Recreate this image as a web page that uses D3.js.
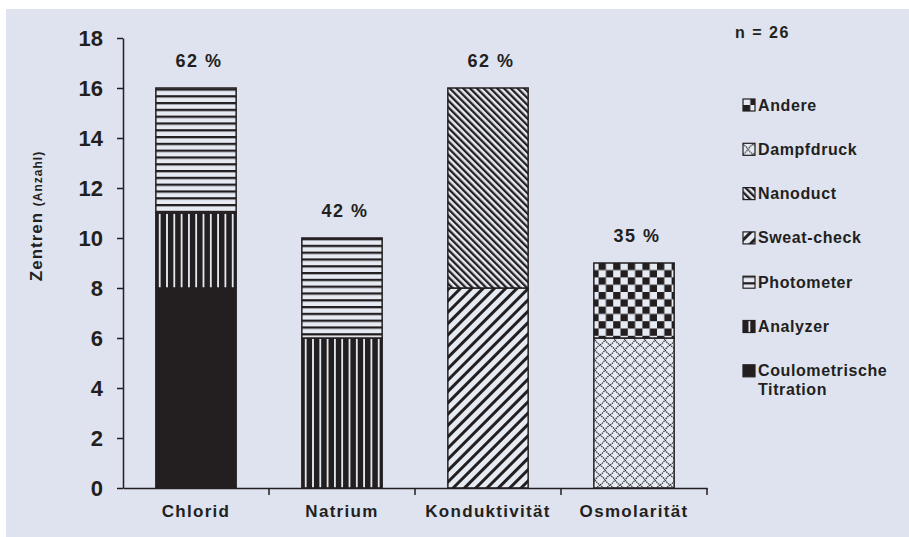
<!DOCTYPE html>
<html>
<head>
<meta charset="utf-8">
<script src="https://cdn.jsdelivr.net/npm/d3@7"></script>
<style>
  html, body { margin: 0; padding: 0; background: #ffffff; }
  svg { display: block; }
  text { font-family: "Liberation Sans", Arial, Helvetica, sans-serif; font-weight: bold; fill: #231f20; }
</style>
</head>
<body>
<svg id="chart" width="909" height="537"></svg>
<script>
// Messverfahren je Parameter (Anzahl Zentren, n = 26)
const categories = ["Chlorid", "Natrium", "Konduktivität", "Osmolarität"];
const methods = ["Coulometrische Titration", "Analyzer", "Photometer", "Sweat-check", "Nanoduct", "Dampfdruck", "Andere"];
const coulometrische = [8, 0, 0, 0];
const analyzer       = [3, 6, 0, 0];
const photometer     = [5, 4, 0, 0];
const sweatCheck     = [0, 0, 8, 0];
const nanoduct       = [0, 0, 8, 0];
const dampfdruck     = [0, 0, 0, 6];
const andere         = [0, 0, 0, 3];
const percentLabels  = ["62 %", "42 %", "62 %", "35 %"];
const yTicks = [0, 2, 4, 6, 8, 10, 12, 14, 16, 18];
const legendOrder = ["Andere", "Dampfdruck", "Nanoduct", "Sweat-check", "Photometer", "Analyzer", "Coulometrische Titration"];
const sampleLabel = "n = 26";

const ink = "#231f20";
const panel = "#dee3ef";
const light = "#e6eaf3";

const seriesValues = {
  "Coulometrische Titration": coulometrische,
  "Analyzer": analyzer,
  "Photometer": photometer,
  "Sweat-check": sweatCheck,
  "Nanoduct": nanoduct,
  "Dampfdruck": dampfdruck,
  "Andere": andere
};

const table = categories.map((c, i) => {
  const row = { category: c };
  methods.forEach(m => row[m] = seriesValues[m][i]);
  return row;
});

const svg = d3.select("#chart");

// Hintergrundfläche
svg.append("rect").attr("x", 6).attr("y", 9).attr("width", 903).attr("height", 528).attr("fill", panel);

// Füllmuster
const defs = svg.append("defs");
const fillId = {};

function pattern(id, w, h, transform) {
  const p = defs.append("pattern").attr("id", id).attr("patternUnits", "userSpaceOnUse")
    .attr("width", w).attr("height", h);
  if (transform) p.attr("patternTransform", transform);
  p.append("rect").attr("width", w).attr("height", h).attr("fill", light);
  return p;
}

// Analyzer: dichte senkrechte Streifen
let p = pattern("p-analyzer", 7.3, 10);
p.append("rect").attr("width", 5.5).attr("height", 10).attr("fill", ink);
fillId["Analyzer"] = "url(#p-analyzer)";

// Photometer: waagerechte Linien
p = pattern("p-photometer", 10, 6.8);
p.append("rect").attr("y", 0).attr("width", 10).attr("height", 2.3).attr("fill", ink);
fillId["Photometer"] = "url(#p-photometer)";

// Sweat-check: breite Schraffur /
p = pattern("p-sweat", 8, 10, "rotate(45)");
p.append("rect").attr("width", 3).attr("height", 10).attr("fill", ink);
fillId["Sweat-check"] = "url(#p-sweat)";

// Nanoduct: enge Schraffur \
p = pattern("p-nano", 4.8, 10, "rotate(-45)");
p.append("rect").attr("width", 2.3).attr("height", 10).attr("fill", ink);
fillId["Nanoduct"] = "url(#p-nano)";

// Dampfdruck: Gittermuster
p = pattern("p-dampf", 10, 10);
p.append("path").attr("d", "M0,5 Q3,3 5,0 Q7,3 10,5 Q7,7 5,10 Q3,7 0,5 Z")
  .attr("fill", "none").attr("stroke", "#2e2e2e").attr("stroke-width", 1.2).attr("stroke-dasharray", "1.5,0.8");
fillId["Dampfdruck"] = "url(#p-dampf)";

// Andere: Schachbrett
p = pattern("p-andere", 14.6, 14.6);
p.append("rect").attr("width", 7.3).attr("height", 7.3).attr("fill", ink);
p.append("rect").attr("x", 7.3).attr("y", 7.3).attr("width", 7.3).attr("height", 7.3).attr("fill", ink);
fillId["Andere"] = "url(#p-andere)";

fillId["Coulometrische Titration"] = ink;

// Skalen
const x = d3.scaleBand().domain(categories).range([123, 707]).paddingInner(0.45).paddingOuter(0.225);
const y = d3.scaleLinear().domain([0, 18]).range([488, 38]);

// Gestapelte Balken
const stacked = d3.stack().keys(methods)(table);
const layers = svg.append("g").selectAll("g").data(stacked).join("g")
  .attr("fill", d => fillId[d.key]);
layers.selectAll("rect").data(d => d.filter(s => s[1] - s[0] > 0)).join("rect")
  .attr("x", d => x(d.data.category))
  .attr("y", d => y(d[1]))
  .attr("width", x.bandwidth())
  .attr("height", d => y(d[0]) - y(d[1]))
  .attr("stroke", ink)
  .attr("stroke-width", 1.5);

// Prozentangaben über den Balken
const totals = table.map(r => d3.sum(methods, m => r[m]));
svg.append("g").selectAll("text").data(categories).join("text")
  .attr("x", d => x(d) + x.bandwidth() / 2 + 3)
  .attr("y", (d, i) => y(totals[i]) - 21)
  .attr("text-anchor", "middle")
  .attr("font-size", 18)
  .style("letter-spacing", "1.5px")
  .text((d, i) => percentLabels[i]);

// y-Achse
const yAxis = svg.append("g").attr("transform", "translate(123,0)")
  .call(d3.axisLeft(y).tickValues(yTicks).tickSize(6).tickSizeOuter(0).tickPadding(14));
yAxis.select(".domain").attr("stroke", ink).attr("stroke-width", 1.5);
yAxis.selectAll(".tick line").attr("stroke", ink).attr("stroke-width", 1.5);
yAxis.selectAll(".tick text").attr("font-size", 22).attr("font-family", "Liberation Sans, Arial, sans-serif")
  .attr("font-weight", "bold").attr("fill", ink);

// x-Achse mit Teilstrichen zwischen den Kategorien
const xAxis = svg.append("g").attr("transform", "translate(0,488)")
  .call(d3.axisBottom(x).tickSize(0).tickSizeOuter(0).tickPadding(17));
xAxis.select(".domain").attr("stroke", ink).attr("stroke-width", 1.5);
xAxis.selectAll(".tick text").attr("font-size", 17).attr("font-family", "Liberation Sans, Arial, sans-serif")
  .attr("font-weight", "bold").attr("fill", ink).style("letter-spacing", "1.3px");
const bounds = categories.map(c => x(c) - x.step() * x.paddingOuter() + x.step());
xAxis.selectAll("line.sep").data(bounds).join("line").attr("class", "sep")
  .attr("x1", d => d).attr("x2", d => d).attr("y1", 0).attr("y2", 7)
  .attr("stroke", ink).attr("stroke-width", 1.5);

// Achsentitel
const yTitle = svg.append("text")
  .attr("transform", "translate(42,216) rotate(-90)")
  .attr("text-anchor", "middle");
yTitle.append("tspan").attr("font-size", 17).style("letter-spacing", "1px").text("Zentren ");
yTitle.append("tspan").attr("font-size", 12).style("letter-spacing", "1px").text("(Anzahl)");

// Stichprobengröße
svg.append("text").attr("x", 735).attr("y", 38).attr("font-size", 16)
  .style("letter-spacing", "1.5px").style("white-space", "pre").text(sampleLabel);

// Legende
const legend = svg.append("g").selectAll("g").data(legendOrder).join("g")
  .attr("transform", (d, i) => `translate(743,${105 + i * 44.3})`);
legend.append("rect").attr("x", 0).attr("y", -6).attr("width", 12).attr("height", 12)
  .attr("fill", d => fillId[d]).attr("stroke", ink).attr("stroke-width", 1.2);
legend.each(function(d) {
  const t = d3.select(this).append("text").attr("x", 15).attr("y", 5.5).attr("font-size", 16)
    .style("letter-spacing", "0.6px");
  const parts = d.split(" ");
  t.append("tspan").attr("x", 15).text(parts[0]);
  if (parts[1]) t.append("tspan").attr("x", 15).attr("dy", 19).text(parts[1]);
});
</script>
</body>
</html>
